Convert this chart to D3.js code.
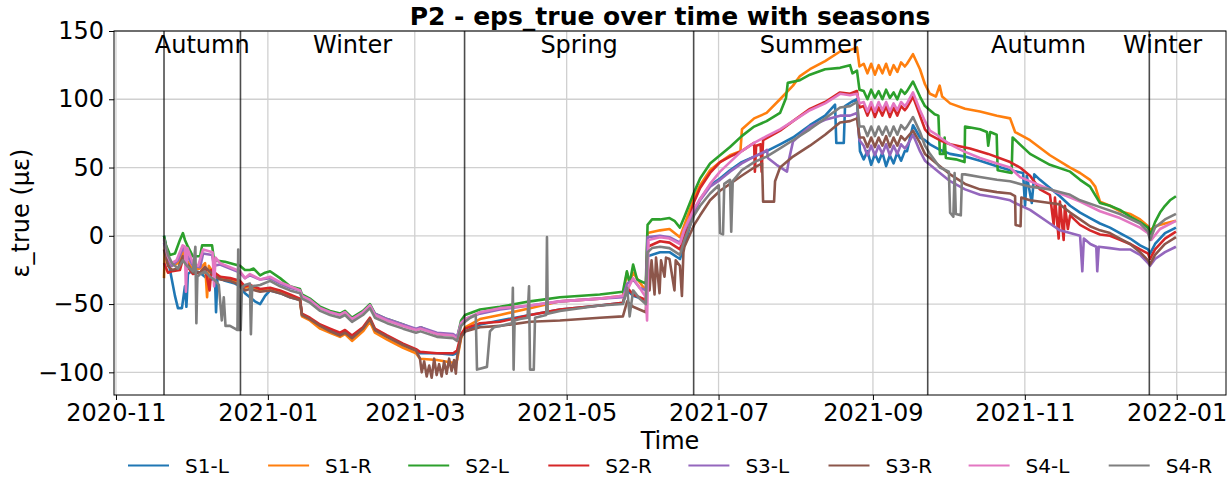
<!DOCTYPE html>
<html><head><meta charset="utf-8">
<script src="https://cdn.jsdelivr.net/npm/d3@7"></script>
<style>body{margin:0;background:#fff}svg{display:block}</style>
</head><body><svg id="c" width="1232" height="479"></svg>
<script>
// ---- data (day offset from first sample, value in µε) ----
const dataStart = "2020-11-20T07:00:00Z";
const seriesNames = ["S1-L","S1-R","S2-L","S2-R","S3-L","S3-R","S4-L","S4-R"];
const seriesColors = ["#1f77b4","#ff7f0e","#2ca02c","#d62728","#9467bd","#8c564b","#e377c2","#7f7f7f"];

const S1_L = [[0,0],[1.6,-15],[2.4,-25],[4.4,-44],[5.6,-53],[7.2,-53],[8.4,-37],[9.0,-52],[9.6,-28],[11.6,-25],[14.5,-27],[17.7,-32],[20.5,-32],[20.9,-56],[21.5,-30],[24.5,-33],[28.5,-35],[30.5,-37],[32.5,-42],[36.5,-48],[38.6,-50],[40.6,-44],[42.6,-40],[46.6,-42],[50.6,-45],[54.6,-47],[55.4,-58],[58.6,-61],[62.7,-66],[66.7,-69],[70.7,-72],[72.7,-70],[75.5,-74],[79.9,-68],[82.7,-61],[84.7,-69],[89.6,-74],[96,-80],[101.2,-84],[102.8,-86],[109.6,-86],[116.1,-87],[117.7,-86],[119.3,-74],[120.9,-70],[126.9,-65],[134.9,-62],[147,-58],[159,-54],[175,-51],[184.3,-49],[186,-40],[188.4,-44],[193.5,-47],[194.2,-15],[199.2,-12],[203,-12],[207.2,-17],[209,-7],[212.9,18],[215.3,27],[219.3,37],[223.3,42],[227.3,48],[232,54],[237,58],[242,62],[247.4,67],[252.6,72],[259.4,81],[265.5,88],[269.5,96],[270,68],[273,68],[273.5,95],[276,98],[278.3,100],[279.5,62],[281,56],[282.5,62],[284,52],[285.5,60],[287,54],[288.5,61],[290,51],[291.5,59],[293,53],[294.5,61],[296,55],[297.5,62],[298.4,62],[300.8,81],[303.6,72],[305.6,70],[307.6,67],[311.6,63],[315.7,60],[321.7,58],[327.7,55],[334.5,51],[339.8,48],[345,46],[345.8,22],[346.5,44],[348.5,24],[349.5,45],[351.8,41],[355.8,35],[359.8,29],[363.9,22],[367.9,17],[371.9,13],[375.9,9],[379.9,6],[383.9,2],[388,-2],[392,-7],[395.2,-10],[396,-13],[398,-6],[402,2],[406.4,6]];

const S1_R = [[0,-31],[0.4,-5],[1.6,-18],[3.2,-22],[5.6,-20],[7.6,-12],[9.2,-18],[11.6,-25],[14.5,-24],[16.5,-20],[17.3,-45],[18,-22],[20.1,-28],[22.5,-30],[26.5,-32],[30.5,-34],[32.5,-38],[34.5,-37],[38.6,-40],[42.6,-39],[46.6,-41],[50.6,-44],[54.6,-47],[55.4,-59],[58.6,-62],[62.7,-68],[66.7,-71],[70.7,-74],[72.7,-72],[75.5,-77],[79.9,-70],[82.7,-63],[84.7,-71],[89.6,-76],[96,-82],[101.2,-86],[102.8,-90],[109.6,-91],[116.1,-93],[117.7,-91],[119.3,-75],[120.9,-67],[126.9,-61],[134.9,-58],[147,-53],[159,-48],[175,-46],[184.3,-44],[185.9,-27],[187,-34],[188.4,-27],[191,-34],[193.5,-40],[194.2,2],[199.2,4],[203,5],[207.2,-1],[209,8],[212.9,28],[215.3,37],[219.3,48],[223.3,54],[227.3,59],[231.5,62],[232.1,78],[237,86],[242,90],[247.4,100],[252.6,110],[255.4,117],[259.4,122],[265.5,128],[271.5,135],[275.5,136],[278.3,138],[279.3,124],[281,126],[282.5,119],[284,126],[285.5,118],[287,125],[288.5,119],[290,126],[291.5,118],[293,125],[294.5,120],[296,127],[297.5,124],[298.4,126],[300.8,133],[303.6,122],[305.6,111],[307.6,104],[310,102],[311.5,110],[312.5,102],[315.7,97],[321.7,93],[327.7,91],[334.5,88],[339.8,86],[341.8,76],[347.8,70],[355.8,59],[363.9,50],[367.9,46],[371.9,41],[374,36],[375.9,25],[379.9,22],[383.9,18],[388,16],[392,12],[395.2,7],[396,4],[398,7],[402,9],[406.4,11]];

const S2_L = [[0,0],[0.8,-7],[2.4,-14],[4.4,-13],[6.4,-3],[7.6,2],[8.4,-3],[9.6,-8],[11.6,-15],[14.5,-15],[15.3,-7],[19.3,-7],[20.1,-18],[24.5,-19],[28.5,-21],[30.5,-22],[32.5,-25],[34.5,-25],[36,-24],[38.6,-29],[40.6,-27],[42.6,-26],[46.6,-31],[50.6,-37],[54.6,-39],[55.4,-43],[58.6,-46],[62.7,-52],[66.7,-55],[70.7,-57],[72.7,-55],[75.5,-60],[79.9,-55],[82.7,-50],[84.7,-57],[89.6,-61],[96,-65],[101.2,-69],[103,-67],[109.6,-72],[116.1,-73],[117.7,-75],[119.3,-62],[120.9,-58],[126.9,-54],[134.9,-52],[147,-48],[159,-45],[175,-43],[184.3,-41],[185.9,-26],[187,-35],[188.4,-21],[190,-32],[193.5,-35],[194.2,8],[196,12],[199.2,12],[203,13],[205,11],[207.2,6],[209,14],[212.9,32],[215.3,42],[219.3,53],[223.3,59],[227.3,65],[232,73],[237,80],[242,84],[247.4,90],[249.8,101],[250.5,112],[255.4,114],[259.4,118],[265.5,122],[271.5,123],[275.5,125],[276.5,119],[278.3,121],[279.3,107],[281,106],[282.5,100],[284,107],[285.5,101],[287,106],[288.5,100],[290,107],[291.5,101],[293,105],[294.5,100],[296,107],[297.5,104],[298.4,106],[300.8,113],[303.6,102],[305.6,95],[307.6,92],[309.5,89],[311,88],[311.6,60],[313,60],[313.5,72],[314,57],[318,56],[321.5,54],[321.7,80],[327.7,78],[330.5,76],[331,66],[331.8,76],[334.4,74],[334.8,48],[340.4,46],[340.8,72],[347.8,60],[355.8,52],[363.9,47],[367.9,41],[371.9,36],[375.9,24],[379.9,22],[383.9,19],[388,14],[392,10],[395.2,6],[396,0],[398,10],[400,17],[402,22],[404,26],[406.4,29]];

const S2_R = [[0,-20],[1.6,-27],[3.2,-26],[6.4,-25],[7.6,-17],[9.2,-22],[11.6,-28],[14.5,-27],[16.5,-23],[18.3,-40],[19,-25],[22.5,-30],[26.5,-31],[30.5,-33],[32.5,-37],[34.5,-36],[38.6,-39],[42.6,-38],[46.6,-40],[50.6,-43],[54.6,-46],[55.4,-57],[58.6,-60],[62.7,-65],[66.7,-68],[70.7,-71],[72.7,-69],[75.5,-73],[79.9,-67],[82.7,-60],[84.7,-68],[89.6,-73],[96,-79],[101.2,-83],[102.8,-85],[109.6,-86],[116.1,-86],[117.7,-84],[119.3,-72],[120.9,-68],[126.9,-64],[134.9,-63],[147,-58],[159,-54],[175,-51],[184.3,-49],[186,-38],[188.4,-43],[193.5,-47],[194.2,-8],[199.2,-4],[203,-5],[207.2,-10],[209,0],[212.9,25],[215.3,35],[219.3,46],[223.3,54],[227.3,58],[232,62],[235.3,66],[237,68],[237.3,47],[237.8,66],[239.6,67],[240,47],[240.6,70],[247.4,77],[252.6,84],[259.4,93],[265.5,98],[271.5,105],[275.5,104],[278.3,106],[279.3,94],[281,95],[282.5,88],[284,95],[285.5,87],[287,94],[288.5,88],[290,95],[291.5,87],[293,94],[294.5,88],[296,95],[297.5,92],[298.4,94],[300.8,102],[303.6,88],[305.6,78],[307.6,74],[311.6,70],[315.7,67],[323.7,64],[331,60],[339.8,54],[343.8,50],[347.8,44],[351.8,34],[355.8,30],[357.3,8],[357.8,28],[359.3,-2],[359.8,25],[361.3,-3],[361.8,22],[363,5],[363.9,15],[367.9,8],[371.9,4],[375.9,1],[379.9,0],[383.9,-3],[388,-6],[392,-10],[395.2,-13],[396,-17],[398,-10],[402,-2],[406.4,3]];

const S3_L = [[0,-5],[1.6,-17],[3.2,-22],[5.6,-18],[7.6,-9],[9.2,-14],[11.6,-22],[14.5,-23],[15.7,-13],[19.3,-14],[20.1,-22],[22.5,-21],[26.5,-24],[30.5,-27],[32.5,-31],[34.5,-29],[38.6,-32],[42.6,-31],[46.6,-35],[50.6,-38],[54.6,-40],[55.4,-44],[58.6,-47],[62.7,-53],[66.7,-56],[70.7,-58],[72.7,-56],[75.5,-61],[79.9,-56],[82.7,-51],[84.7,-57],[89.6,-61],[96,-65],[101.2,-68],[103,-67],[109.6,-71],[116.1,-72],[117.7,-74],[119.3,-64],[120.9,-61],[126.9,-57],[134.9,-54],[147,-51],[159,-48],[175,-46],[184.3,-45],[186,-35],[188.4,-32],[191,-38],[193.5,-40],[194.2,-1],[199.2,0],[203,-1],[207.2,-5],[209,4],[212.9,18],[215.3,26],[219.3,36],[223.3,41],[227.3,47],[232,53],[237,58],[240.6,61],[242.2,63],[242.5,57],[246,52],[250.2,47],[251,56],[252.6,69],[259.4,80],[265.5,85],[271.5,88],[275.5,88],[278.3,90],[279.3,70],[281,66],[282.5,59],[284,66],[285.5,59],[287,66],[288.5,60],[290,67],[291.5,59],[293,66],[294.5,60],[296,67],[297.5,64],[298.4,66],[300.8,74],[303.6,62],[305.6,55],[307.6,52],[311.6,46],[315.7,40],[321.7,34],[327.7,30],[334.5,28],[339.8,26],[341.8,24],[347.8,19],[355.8,9],[359.8,4],[363.9,2],[367.9,0],[368.8,-26],[369.4,-2],[372,-6],[374.4,-8],[374.8,-26],[375.4,-8],[379.9,-9],[383.9,-10],[388,-10],[392,-14],[395.2,-20],[396,-22],[398,-17],[402,-12],[406.4,-8]];

const S3_R = [[0,-10],[1.6,-22],[3.2,-25],[5.6,-24],[7.6,-15],[9.2,-20],[11.6,-27],[14.5,-27],[16.5,-23],[20.1,-29],[22.5,-32],[26.5,-33],[30.5,-36],[32.5,-40],[34.5,-39],[38.6,-41],[42.6,-40],[46.6,-42],[50.6,-45],[54.6,-47],[55.4,-58],[58.6,-61],[62.7,-66],[66.7,-70],[70.7,-73],[72.7,-71],[75.5,-75],[79.9,-68],[82.7,-61],[84.7,-69],[89.6,-74],[96,-80],[101.2,-84],[102.8,-90],[103.5,-100],[104.5,-92],[105.5,-103],[106.5,-95],[107.5,-104],[108.5,-90],[109.5,-102],[110.5,-94],[111.5,-103],[112.5,-92],[113.5,-101],[114.5,-90],[115.5,-99],[116.5,-91],[117.2,-101],[117.7,-89],[119.3,-74],[120.9,-70],[126.9,-67],[134.9,-66],[147,-63],[159,-62],[175,-60],[184.3,-59],[186,-48],[188.4,-52],[193.5,-56],[194.2,-16],[195,-40],[195.8,-18],[197,-43],[197.6,-16],[199,-42],[199.6,-18],[201,-30],[201.6,-16],[203,-17],[205,-40],[205.5,-18],[207.2,-22],[208,-44],[208.6,-12],[209,-8],[212.9,8],[215.3,15],[219.3,26],[223.3,33],[227.3,38],[232,44],[237,50],[240.2,53],[240.6,25],[245,25],[245.4,40],[247.4,50],[252.6,58],[259.4,66],[265.5,74],[271.5,83],[275.5,84],[278.3,86],[279.3,72],[281,72],[282.5,65],[284,72],[285.5,65],[287,72],[288.5,66],[290,73],[291.5,65],[293,72],[294.5,66],[296,73],[297.5,70],[298.4,72],[300.8,77],[303.6,68],[305.6,60],[307.6,57],[311.6,51],[315.7,45],[321.7,38],[327.7,34],[334.5,32],[339.8,31],[341.8,29],[342,8],[344,7],[344.3,28],[347.8,26],[355.8,24],[359.8,23],[363.9,17],[367.9,12],[371.9,7],[375.9,4],[379.9,2],[383.9,-2],[388,-6],[392,-12],[395.2,-18],[396,-21],[398,-14],[402,-6],[406.4,-1]];

const S4_L = [[0,-3],[1.5,-15],[3,-20],[5,-18],[7.5,-7],[8.4,-8],[8.8,-41],[9.4,-9],[11.6,-20],[13.7,-22],[15.7,-10],[19.5,-12],[20.1,-37],[20.7,-16],[22.5,-20],[26.5,-23],[30.5,-26],[32.5,-31],[34.5,-28],[38.6,-32],[42.6,-30],[46.6,-34],[50.6,-37],[54.6,-40],[55.4,-44],[58.6,-47],[62.7,-53],[66.7,-56],[70.7,-58],[72.7,-56],[75.5,-61],[79.9,-56],[82.7,-51],[84.7,-58],[89.6,-62],[96,-66],[101.2,-69],[103,-68],[109.6,-72],[116.1,-73],[117.7,-76],[119.3,-64],[120.9,-61],[126.9,-56],[134.9,-53],[147,-51],[159,-48],[175,-46],[184.3,-44],[186,-40],[188.4,-31],[191,-38],[193.5,-45],[194,-62],[194.6,-3],[199.2,-1],[203,-2],[207.2,-6],[209,5],[212.9,20],[215.3,27],[219.3,38],[223.3,47],[227.3,54],[232,62],[237,68],[242,73],[247.4,78],[252.6,84],[259.4,92],[265.5,97],[271.5,104],[275.5,103],[278.3,104],[279.3,97],[281,98],[282.5,91],[284,98],[285.5,91],[287,98],[288.5,92],[290,98],[291.5,91],[293,97],[294.5,92],[296,98],[297.5,95],[298.4,97],[300.8,105],[303.6,92],[305.6,84],[307.6,77],[310.4,74],[311.6,72],[315.7,67],[321,62],[327.7,57],[334.5,53],[339.8,50],[343.8,43],[355.8,34],[367.9,25],[375.9,18],[383.9,13],[392,6],[395.2,2],[396.5,-3],[400,5],[406.4,11]];

const S4_R = [[0,-2],[1.6,-14],[3.2,-20],[5.6,-24],[7.6,-18],[9.2,-22],[11.6,-26],[12.6,-8],[13,-64],[13.4,-30],[14.5,-28],[16.5,-26],[18.5,-30],[20.1,-32],[22,-36],[23.2,-62],[24,-45],[24.7,-66],[26.5,-66],[28.5,-68],[29.5,-69],[29.8,-10],[30.1,-69],[30.8,-69],[31.3,-38],[32.5,-36],[34.5,-35],[34.9,-72],[35.4,-37],[38.6,-36],[42.6,-33],[46.6,-37],[50.6,-40],[54.6,-42],[55.4,-46],[58.6,-49],[62.7,-55],[66.7,-58],[70.7,-60],[72.7,-58],[75.5,-63],[79.9,-58],[82.7,-53],[84.7,-60],[89.6,-64],[96,-68],[101.2,-71],[103,-70],[109.6,-74],[116.1,-75],[117.7,-77],[119.3,-66],[120.9,-63],[123,-60],[125.2,-58],[125.7,-98],[129.7,-96],[130.9,-70],[132.5,-67],[134.9,-66],[139.8,-64],[140.1,-38],[140.4,-98],[140.8,-62],[143,-61],[146,-60],[146.6,-37],[147,-98],[148.5,-98],[149,-60],[153.5,-58],[153.8,-1],[154.1,-57],[159,-55],[167,-53],[175,-51],[184.3,-50],[186,-38],[187,-59],[188.4,-40],[191,-46],[193.5,-50],[194.2,-12],[196,-9],[199.2,-8],[203,-9],[207.2,-14],[209,-3],[212.9,15],[215.3,22],[219.3,31],[222.8,37],[223.3,2],[224.5,1],[225,38],[227.3,41],[227.8,3],[228.4,40],[232,48],[237,54],[242,58],[247.4,64],[252.6,70],[259.4,78],[265.5,86],[271.5,94],[275.5,95],[278.3,98],[279.3,80],[281,80],[282.5,73],[284,80],[285.5,73],[287,80],[288.5,74],[290,80],[291.5,73],[293,80],[294.5,74],[296,81],[297.5,78],[298.4,80],[300.8,87],[303.6,76],[305.6,66],[307.6,60],[311.6,50],[315.2,47],[315.7,17],[317,14],[317.5,46],[318,16],[320,15],[320.5,45],[321.7,45],[327.7,43],[334.5,41],[339.8,40],[347.8,36],[355.8,34],[363.9,30],[367.9,26],[375.9,21],[383.9,16],[392,9],[395.2,3],[396,-3],[398,6],[402,12],[406.4,16]];

const seriesData = [S1_L, S1_R, S2_L, S2_R, S3_L, S3_R, S4_L, S4_R];

const xTickLabels = ["2020-11","2021-01","2021-03","2021-05","2021-07","2021-09","2021-11","2022-01"];
const yTicks = [-100, -50, 0, 50, 100, 150];
const seasonNames  = ["Autumn","Winter","Spring","Summer","Autumn","Winter"];
const seasonStarts = ["2020-09-22","2020-12-21","2021-03-21","2021-06-21","2021-09-23","2021-12-21"];
const seasonEnd    = "2022-03-20";

// ---- drawing ----
const W = 1232, H = 479;
const L = 114, R = 1226, T = 31, B = 395;
const FONT = "DejaVu Sans, Verdana, sans-serif";
const svg = d3.select("#c");
svg.append("rect").attr("width", W).attr("height", H).attr("fill", "#fff");

const t0 = new Date(dataStart).getTime();
const DAY = 86400000;
const toDate = d => new Date(t0 + d * DAY);

const x = d3.scaleUtc()
  .domain([new Date(Date.UTC(2020, 9, 31, 5)), new Date(Date.UTC(2022, 0, 20, 19))])
  .range([L, R]);
const y = d3.scaleLinear().domain([-116.6, 150]).range([B, T]);

const parseMonth = d3.utcParse("%Y-%m");
const parseDay = d3.utcParse("%Y-%m-%d");
const xTickDates = xTickLabels.map(parseMonth);

// grid
const grid = svg.append("g");
grid.selectAll("line.gx").data(xTickDates).join("line")
  .attr("x1", d => x(d)).attr("x2", d => x(d)).attr("y1", T).attr("y2", B)
  .attr("stroke", "#d0d0d0").attr("stroke-width", 1.3);
grid.selectAll("line.gy").data(yTicks).join("line")
  .attr("x1", L).attr("x2", R).attr("y1", d => y(d)).attr("y2", d => y(d))
  .attr("stroke", "#d0d0d0").attr("stroke-width", 1.3);

// clip
svg.append("clipPath").attr("id", "clip").append("rect")
  .attr("x", L).attr("y", T).attr("width", R - L).attr("height", B - T);

const line = d3.line().x(d => x(toDate(d[0]))).y(d => y(d[1]));
const plot = svg.append("g").attr("clip-path", "url(#clip)");
seriesData.forEach((s, i) => {
  plot.append("path").datum(s).attr("d", line)
    .attr("fill", "none").attr("stroke", seriesColors[i])
    .attr("stroke-width", 2.6).attr("stroke-linejoin", "round");
});

// seasons
const dStart = toDate(0), dEnd = toDate(S1_L[S1_L.length - 1][0]);
const seasons = seasonNames.map((n, i) => {
  const s = parseDay(seasonStarts[i]);
  const e = parseDay(i + 1 < seasonStarts.length ? seasonStarts[i + 1] : seasonEnd);
  const cs = s < dStart ? dStart : s;
  const ce = e > dEnd ? dEnd : e;
  return { name: n, s: cs, e: ce };
});
plot.selectAll("line.season").data(seasons).join("line")
  .attr("x1", d => x(d.s)).attr("x2", d => x(d.s)).attr("y1", T).attr("y2", B)
  .attr("stroke", "#000").attr("stroke-opacity", 0.7).attr("stroke-width", 1.6);
svg.selectAll("text.season").data(seasons).join("text")
  .attr("x", d => (x(d.s) + x(d.e)) / 2).attr("y", 53)
  .attr("text-anchor", "middle").attr("font-family", FONT).attr("font-size", 24)
  .attr("fill", "#000").text(d => d.name);

// axes
const xAxis = d3.axisBottom(x).tickValues(xTickDates)
  .tickFormat((d, i) => xTickLabels[i]).tickSize(5).tickPadding(4);
const yAxis = d3.axisLeft(y).tickValues(yTicks)
  .tickFormat(d => d < 0 ? "\u2212" + Math.abs(d) : String(d)).tickSize(5).tickPadding(5);
const gx = svg.append("g").attr("transform", `translate(0,${B})`).call(xAxis);
const gy = svg.append("g").attr("transform", `translate(${L},0)`).call(yAxis);
[gx, gy].forEach(g => {
  g.select(".domain").remove();
  g.selectAll(".tick line").attr("stroke", "#000").attr("stroke-width", 1);
  g.selectAll(".tick text").attr("font-family", FONT).attr("font-size", 24).attr("fill", "#000");
});

// frame
svg.append("rect").attr("x", L).attr("y", T).attr("width", R - L).attr("height", B - T)
  .attr("fill", "none").attr("stroke", "#000").attr("stroke-width", 1);

// labels
svg.append("text").attr("x", (L + R) / 2).attr("y", 25).attr("text-anchor", "middle")
  .attr("font-family", FONT).attr("font-size", 25).attr("font-weight", "bold")
  .text("P2 - eps_true over time with seasons");
svg.append("text").attr("x", (L + R) / 2).attr("y", 449).attr("text-anchor", "middle")
  .attr("font-family", FONT).attr("font-size", 24).text("Time");
svg.append("text").attr("transform", `translate(29,${(T + B) / 2}) rotate(-90)`)
  .attr("text-anchor", "middle").attr("font-family", FONT).attr("font-size", 24)
  .text("ε_true (με)");

// legend
const lg = svg.append("g");
seriesNames.forEach((n, i) => {
  const x0 = 128 + i * 140.1;
  lg.append("line").attr("x1", x0).attr("x2", x0 + 41).attr("y1", 465.5).attr("y2", 465.5)
    .attr("stroke", seriesColors[i]).attr("stroke-width", 2.2);
  lg.append("text").attr("x", x0 + 57).attr("y", 473).attr("font-family", FONT)
    .attr("font-size", 20).text(n);
});
</script>
</body></html>
